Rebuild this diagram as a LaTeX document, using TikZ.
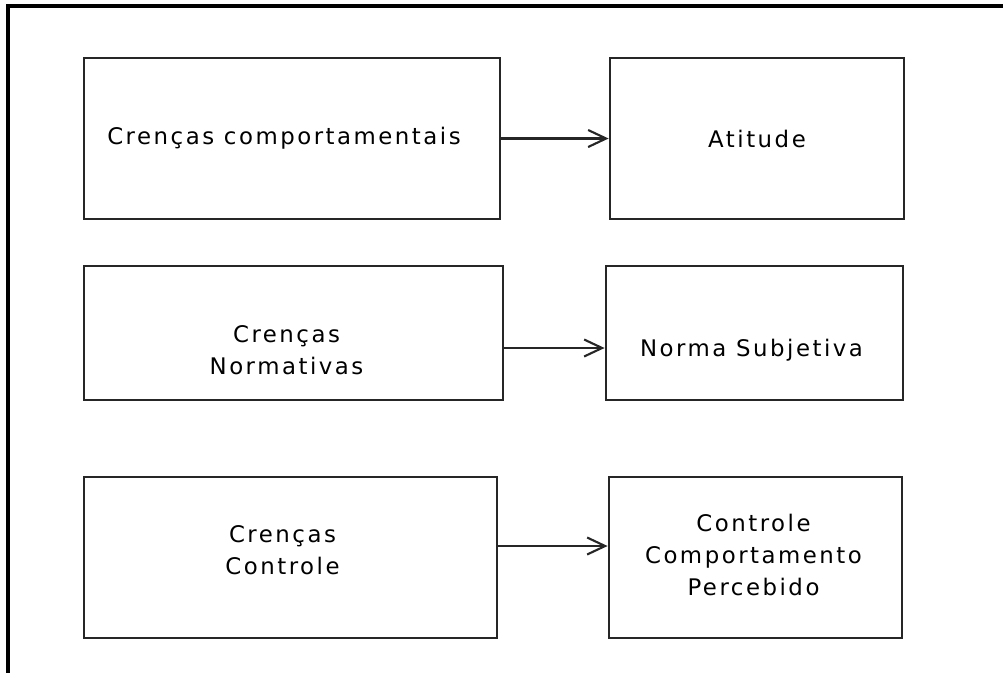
\documentclass[tikz,border=0pt]{standalone}
\usepackage{fontspec}
\setmainfont{DejaVu Sans}[LetterSpace=11]
\usetikzlibrary{arrows.meta, calc}
\tikzset{
  block_font/.style = {font=\fontsize{13}{18}\selectfont},
  line_style/.style = {line width=1.6pt, draw=black!85},
  wide_size/.style = {minimum width=8.32cm},
  narrow_size/.style = {minimum width=5.88cm}
}
\tikzset{
  block/.style = {line_style, rectangle, inner sep=0, minimum height=3.22cm},
  block_low/.style = {block, minimum height=2.68cm},
  txt/.style = {block_font, align=center, inner sep=0},
  arrow/.style = {-{Straight Barb[length=0.36cm, width=0.34cm, line width=1.2pt]}, line width=1.2pt, black!85}
}
\begin{document}
\begin{tikzpicture}
        \useasboundingbox (0,0) rectangle (20.06,-13.44);

        % Frame
        \draw[line width=1.9pt, black] (0.16,-14) -- (0.16,-0.12) -- (21,-0.12);

        % Boxes
        \node[block, wide_size] at (5.84,-2.77) (beh) {};
        \node[block, narrow_size] at (15.14,-2.77) (att) {};
        \node[block_low, wide_size, minimum width=8.38cm] at (5.87,-6.66) (norm) {};
        \node[block_low, narrow_size, minimum width=5.94cm] at (15.09,-6.66) (subj) {};
        \node[block, wide_size, minimum width=8.26cm] at (5.81,-11.15) (ctrl) {};
        \node[block, narrow_size, minimum width=5.86cm] at (15.11,-11.15) (perc) {};

        % Texts
        \node[txt] at ([xshift=-0.16cm]beh.center) (beh_txt) {Crenças comportamentais};
        \node[txt] at (att.center) (att_txt) {Atitude};
        \node[txt] at ([xshift=-0.14cm, yshift=-0.34cm]norm.center) (norm_txt) {Crenças\\Normativas};
        \node[txt] at ([xshift=-0.06cm, yshift=-0.34cm]subj.center) (subj_txt) {Norma Subjetiva};
        \node[txt] at ([xshift=-0.16cm, yshift=0.15cm]ctrl.center) (ctrl_txt) {Crenças\\Controle};
        \node[txt] at ([xshift=-0.04cm, yshift=0.05cm]perc.center) (perc_txt) {Controle\\Comportamento\\Percebido};

        % Arrows
        \draw[arrow] (beh.east) -- (att.west);
        \draw[arrow] ([yshift=-0.3cm]norm.east) -- ([yshift=-0.3cm]subj.west);
        \draw[arrow] ([yshift=0.23cm]ctrl.east) -- ([yshift=0.23cm]perc.west);
\end{tikzpicture}
\end{document}
